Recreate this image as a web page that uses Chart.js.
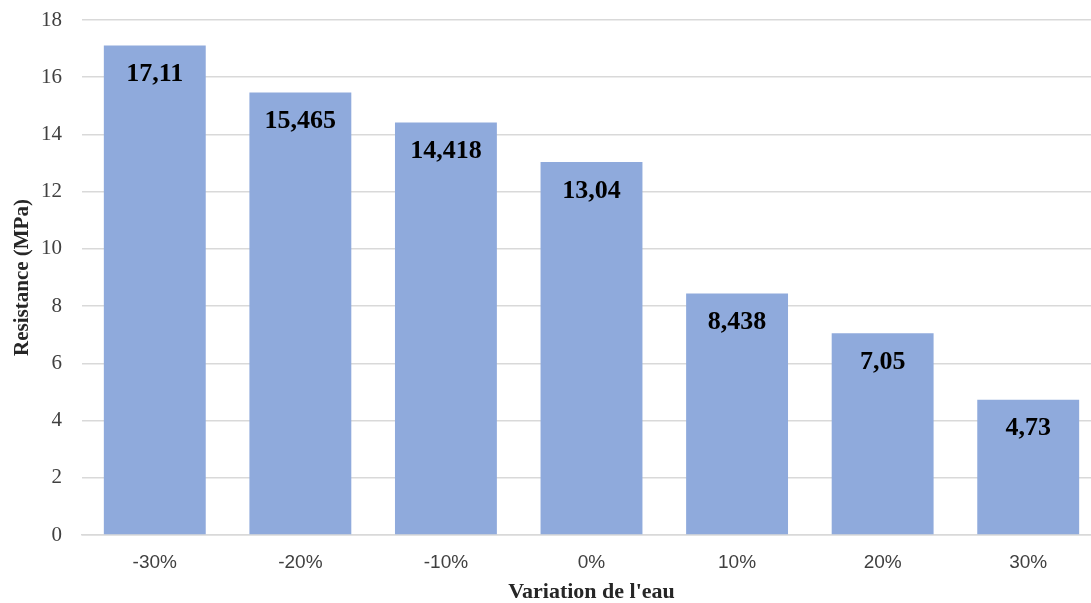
<!DOCTYPE html>
<html>
<head>
<meta charset="utf-8">
<script src="https://cdn.jsdelivr.net/npm/chart.js@4"></script>
<style>
  html, body { margin: 0; padding: 0; background: #fff; overflow: hidden; width: 1091px; height: 603px; }
  #wrap { width: 1101px; height: 606px; }
</style>
</head>
<body>
<div id="wrap">
  <canvas id="resistanceChart" width="1101" height="606"></canvas>
</div>
<script>
const categories = ['-30%', '-20%', '-10%', '0%', '10%', '20%', '30%'];
const resistance = [17.11, 15.465, 14.418, 13.04, 8.438, 7.05, 4.73];
const valueLabels = ['17,11', '15,465', '14,418', '13,04', '8,438', '7,05', '4,73'];

// draws the value inside the top of each bar
const barValues = {
  id: 'barValues',
  afterDatasetsDraw(chart) {
    const ctx = chart.ctx;
    const meta = chart.getDatasetMeta(0);
    ctx.save();
    ctx.font = 'bold 26px "Liberation Serif", serif';
    ctx.fillStyle = '#000';
    ctx.textAlign = 'center';
    ctx.textBaseline = 'middle';
    meta.data.forEach((bar, i) => {
      ctx.fillText(valueLabels[i], bar.x, bar.y + 29);
    });
    ctx.restore();
  }
};

const ctx = document.getElementById('resistanceChart').getContext('2d');
new Chart(ctx, {
  type: 'bar',
  data: {
    labels: categories,
    datasets: [{
      data: resistance,
      backgroundColor: '#8FAADC',
      barPercentage: 0.7,
      categoryPercentage: 1.0
    }]
  },
  options: {
    responsive: false,
    animation: false,
    layout: { padding: { top: 20, left: 0, right: 0, bottom: 0 } },
    plugins: {
      legend: { display: false },
      tooltip: { enabled: false }
    },
    scales: {
      x: {
        grid: { display: false, drawTicks: false },
        border: { color: '#d9d9d9', width: 1.5 },
        ticks: {
          color: '#404040',
          padding: 16,
          font: { family: '"Liberation Sans", sans-serif', size: 19 }
        },
        title: {
          display: true,
          text: "Variation de l'eau",
          color: '#262626',
          padding: { top: 0, bottom: 0 },
          font: { family: '"Liberation Serif", serif', size: 22, weight: 'bold' }
        },
        afterFit(scale) {
          scale.height = 71;
          scale.paddingLeft = 0;
          scale.paddingRight = 0;
        }
      },
      y: {
        min: 0,
        max: 18,
        ticks: {
          stepSize: 2,
          color: '#404040',
          padding: 20,
          font: { family: '"Liberation Serif", serif', size: 21 }
        },
        grid: { color: '#d9d9d9', lineWidth: 1.5, drawTicks: false },
        border: { display: false },
        title: {
          display: true,
          text: 'Resistance (MPa)',
          color: '#262626',
          padding: { top: 10, bottom: 0 },
          font: { family: '"Liberation Serif", serif', size: 21, weight: 'bold' }
        },
        afterFit(scale) {
          scale.width = 82;
          scale.paddingTop = 0;
          scale.paddingBottom = 0;
        }
      }
    }
  },
  plugins: [barValues]
});
</script>
</body>
</html>
